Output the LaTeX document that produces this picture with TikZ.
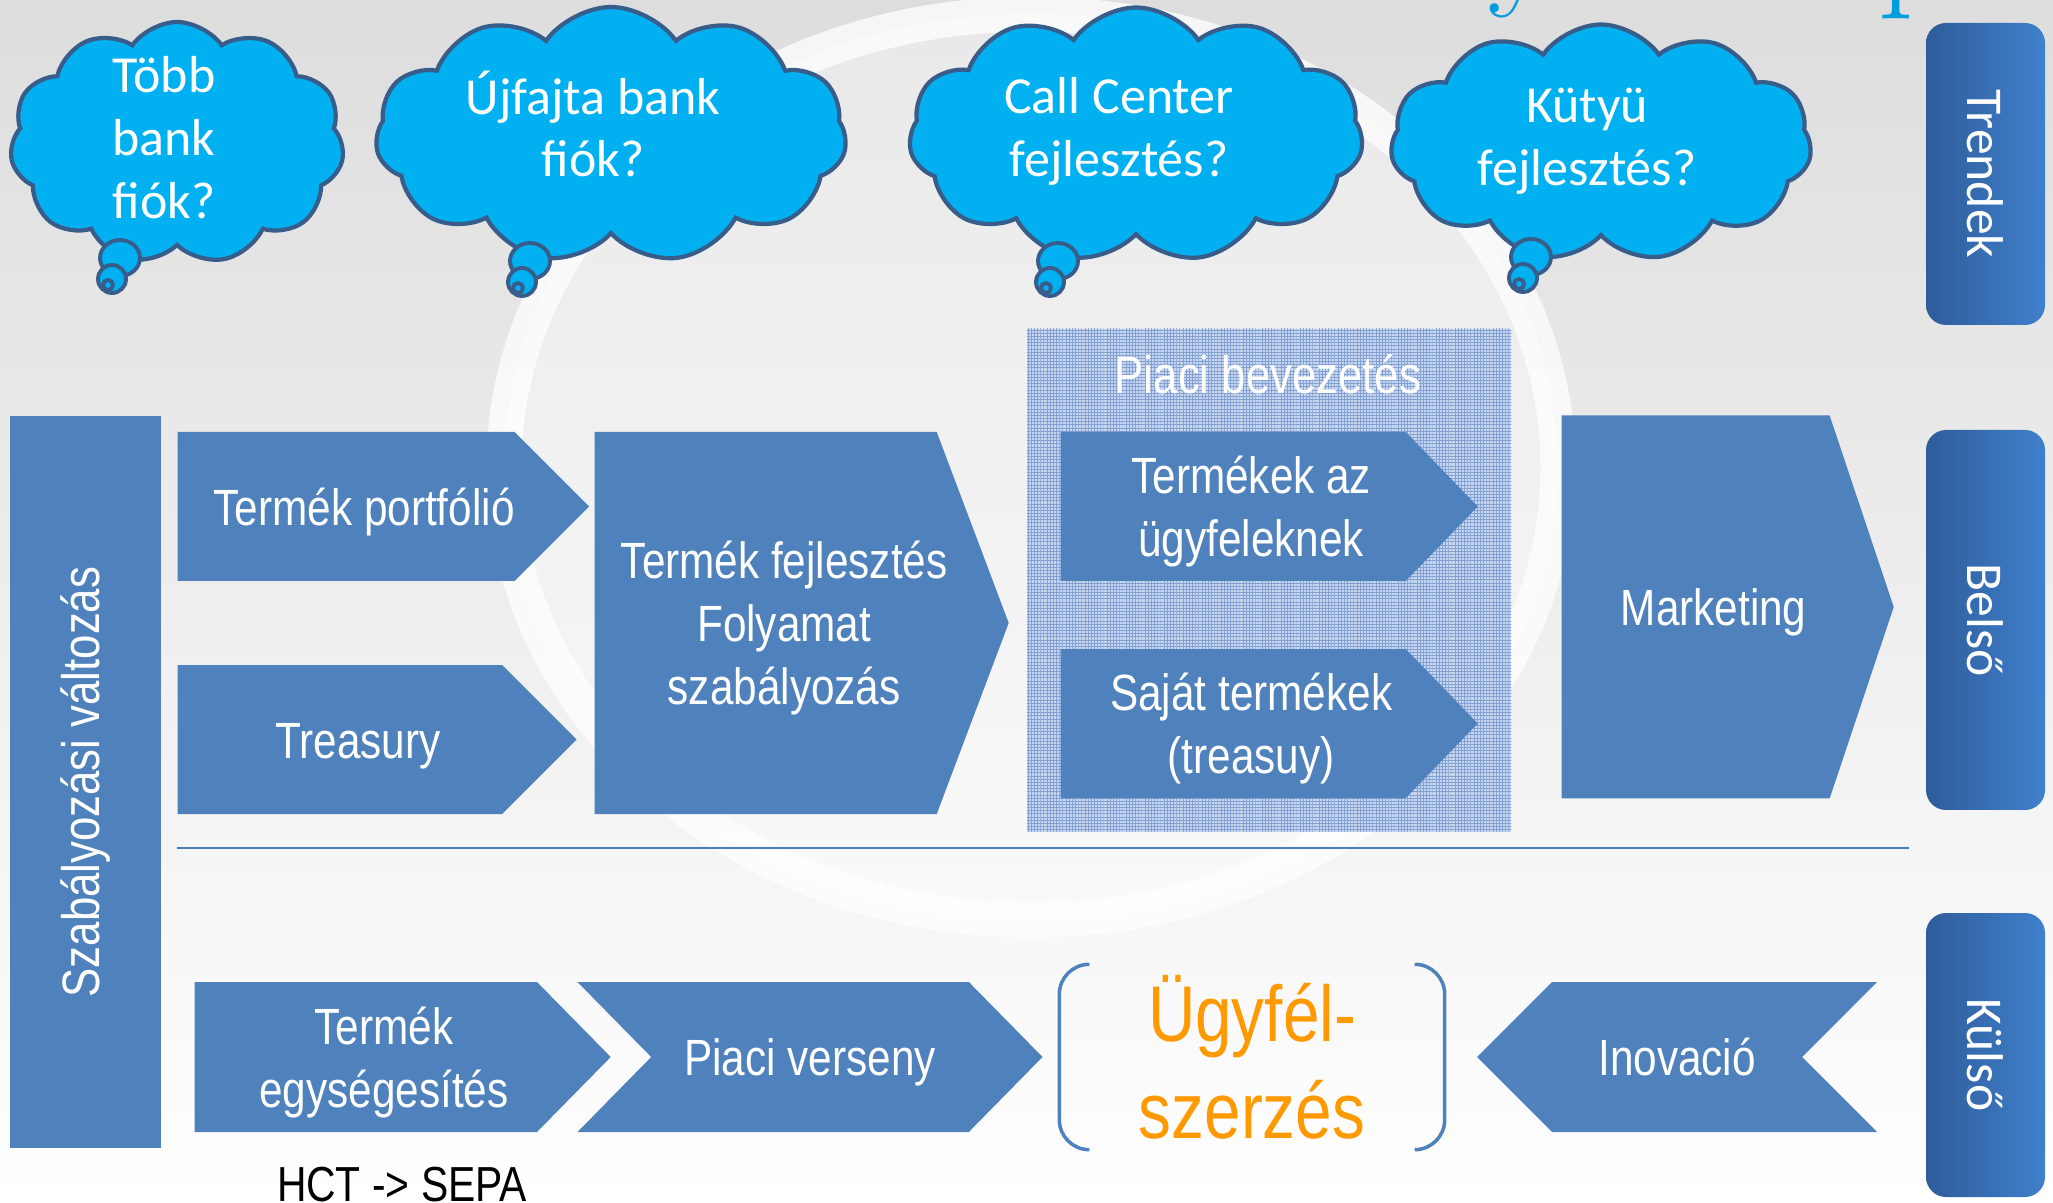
\documentclass[tikz,border=0pt]{standalone}
\usepackage{fontspec}
\newfontfamily\narrowfont[FakeStretch=0.83]{Liberation Sans}
\newfontfamily\calibrifont{Carlito}
\usepackage{graphicx}
\usepackage{tikz}
\usetikzlibrary{shapes.symbols, patterns, positioning}
\definecolor{boxblue}{RGB}{79, 129, 189}
\definecolor{cloudblue}{RGB}{0, 176, 240}
\definecolor{clouddark}{RGB}{56, 93, 138}
\definecolor{tabdark}{RGB}{46, 92, 154}
\definecolor{tablight}{RGB}{64, 128, 204}
\definecolor{bgtop}{RGB}{221, 221, 221}
\definecolor{bgmid}{RGB}{238, 238, 238}
\definecolor{gridfill}{RGB}{200, 215, 238}
\definecolor{gridline}{RGB}{130, 160, 212}
\definecolor{ugyorange}{RGB}{255, 153, 0}
\definecolor{titleblue}{RGB}{0, 157, 220}
\definecolor{sepblue}{RGB}{74, 126, 187}
\pgfdeclarepatternformonly{finegrid}{\pgfqpoint{-0.1pt}{-0.1pt}}{\pgfqpoint{1pt}{1pt}}{\pgfqpoint{0.9pt}{0.9pt}}{
  \pgfsetlinewidth{0.25pt}
  \pgfpathmoveto{\pgfqpoint{0pt}{0pt}}\pgfpathlineto{\pgfqpoint{0.9pt}{0pt}}
  \pgfpathmoveto{\pgfqpoint{0pt}{0pt}}\pgfpathlineto{\pgfqpoint{0pt}{0.9pt}}
  \pgfusepath{stroke}}
% text of a pentagon sits a little right of and below the body centre
\newcommand{\boxtext}[2][3.6mm]{\hspace*{#1}\raisebox{-0.6mm}[\height][\depth]{\begin{tabular}{@{}c@{}}#2\end{tabular}}}
\tikzset{
  flowbox/.style = {signal, fill = boxblue, text = white, align = center, inner sep = 0pt,
    font = \narrowfont\fontsize{14.5}{18}\selectfont},
  thought/.style = {cloud, cloud puffs = 11, cloud puff arc = 110, cloud ignores aspect,
    fill = cloudblue, draw = clouddark, line width = 1.2pt},
  bubble/.style = {fill = cloudblue, draw = clouddark, line width = 1.1pt},
  cloudtext/.style = {text = white, align = center, inner sep = 0pt,
    font = \calibrifont\fontsize{14.8}{17.9}\selectfont},
  sidetab/.style = {rectangle, rounded corners = 2mm, left color = tabdark, right color = tablight,
    text = white, inner sep = 0pt, minimum width = 11.9mm,
    font = \calibrifont\fontsize{14.7}{17.9}\selectfont},
  bracket/.style = {draw = boxblue, line width = 0.35mm, rounded corners = 3mm},
  title/.style = {anchor = base west, inner sep = 0pt, text = titleblue, font = \fontsize{40}{40}\selectfont}
}

\begin{document}
\begin{tikzpicture}[x = 0.1mm, y = -0.1mm]
\useasboundingbox (0,0) rectangle (2053,1203);
\clip (0,0) rectangle (2053,1203);
% background and watermark
\shade[top color = bgtop, middle color = bgmid, bottom color = white] (0,0) rectangle (2053,1203);
\fill[white, opacity = 0.35] (1031,467) ellipse [x radius = 527, y radius = 453];
\draw[white, opacity = 0.75, line width = 3.5mm] (1031,467) ellipse [x radius = 527, y radius = 453];
\node[title] (titley) at (1488,-10) {y};
\node[title] (titlep) at (1878,-8) {p};

% thought clouds
\node[thought, minimum width = 33.4mm, minimum height = 24.2mm] (cloud1) at (177,143) {};
\node[thought, minimum width = 47.1mm, minimum height = 25.6mm] (cloud2) at (611,135) {};
\node[thought, minimum width = 45.4mm, minimum height = 25.5mm] (cloud3) at (1136,135) {};
\node[thought, minimum width = 42.1mm, minimum height = 23.7mm] (cloud4) at (1601,143) {};
\foreach \bx/\by in {120/258, 530/261, 1058/261, 1531/257} {
  \draw[bubble] (\bx,\by) ellipse [x radius = 20, y radius = 18];
  \draw[bubble] (\bx-8,\by+21) circle [radius = 14];
  \draw[bubble] (\bx-12,\by+27) circle [radius = 5];
}
\node[cloudtext] (cloud1text) at (164,138) {Több\\bank\\fiók?};
\node[cloudtext] (cloud2text) at (593,124) {Újfajta bank\\fiók?};
\node[cloudtext] (cloud3text) at (1119,131) {Call Center\\fejlesztés?};
\node[cloudtext] (cloud4text) at (1587,141) {Kütyü\\fejlesztés?};

% side tabs
\node[sidetab, minimum height = 30.2mm] (trendek) at (1985.5,174) {\rotatebox{-90}{Trendek}};
\node[sidetab, minimum height = 38mm] (belso) at (1985.5,620) {\rotatebox{-90}{Belső}};
\node[sidetab, minimum height = 28.4mm] (kulso) at (1985.5,1055) {\rotatebox{-90}{Külső}};

% left bar
\node[fill = boxblue, minimum width = 15.1mm, minimum height = 73.2mm, inner sep = 0pt, text = white,
  font = \narrowfont\fontsize{15}{18}\selectfont] (szabaly) at (85.5,782) {\rotatebox{90}{Szabályozási változás}};

% inner row
\node[flowbox, signal to = east, signal pointer angle = 90, minimum width = 39.9mm,
  minimum height = 14.9mm, anchor = west] (portfolio) at (177,506.5) {\boxtext{Termék portfólió}};
\node[flowbox, signal to = east, signal pointer angle = 90, minimum width = 39.9mm,
  minimum height = 14.9mm, anchor = west] (treasury) at (177,739.5) {\boxtext{Treasury}};
\node[flowbox, signal to = east, signal pointer angle = 138.7, minimum width = 41.4mm,
  minimum height = 38.2mm, anchor = west] (fejlesztes) at (594,623)
  {\boxtext[3.7mm]{\makebox[30mm]{\begin{tabular}{@{}c@{}}Termék fejlesztés\\Folyamat\\szabályozás\end{tabular}}}};
\node[fill = gridfill, postaction = {pattern = finegrid, pattern color = gridline},
  minimum width = 48.4mm, minimum height = 50.3mm, inner sep = 0pt] (bevezetes) at (1269,580.5) {};
\node[text = white, inner sep = 0pt, font = \narrowfont\fontsize{15}{18}\selectfont] (bevcim) at (1268,374) {Piaci bevezetés};
\node[flowbox, signal to = east, signal pointer angle = 92, minimum width = 41.7mm,
  minimum height = 14.9mm, anchor = west] (ugyfelek) at (1060,506.5) {\boxtext{Termékek az\\ügyfeleknek}};
\node[flowbox, signal to = east, signal pointer angle = 92, minimum width = 41.7mm,
  minimum height = 14.9mm, anchor = west] (sajat) at (1060,723.5) {\boxtext{Saját termékek\\(treasuy)}};
\node[flowbox, signal to = east, signal pointer angle = 143, minimum width = 33.2mm,
  minimum height = 38.3mm, anchor = west] (marketing) at (1561,607) {\boxtext{Marketing}};

\draw[sepblue, line width = 0.25mm] (177,848) -- (1909,848);

% outer row
\node[flowbox, signal to = east, signal pointer angle = 91, minimum width = 41.6mm,
  minimum height = 15mm, anchor = west] (egyseg) at (194,1057) {\boxtext{Termék\\egységesítés}};
\node[flowbox, signal from = west, signal to = east, signal pointer angle = 91, minimum width = 46.5mm,
  minimum height = 15mm] (verseny) at (810,1057) {\boxtext[0mm]{Piaci verseny}};
\node[minimum width = 38.4mm, minimum height = 18.4mm, inner sep = 0pt, align = center, text = ugyorange,
  font = \narrowfont\fontsize{22.5}{27.6}\selectfont] (ugyfel) at (1252,1057) {Ügyfél-\\szerzés};
\draw[bracket] ([xshift = 3mm]ugyfel.north west) -- (ugyfel.north west) -- (ugyfel.south west) -- ([xshift = 3mm]ugyfel.south west);
\draw[bracket] ([xshift = -3mm]ugyfel.north east) -- (ugyfel.north east) -- (ugyfel.south east) -- ([xshift = -3mm]ugyfel.south east);
\node[flowbox, signal to = west, signal from = east, signal pointer angle = 90, minimum width = 40mm,
  minimum height = 15mm] (inovacio) at (1677,1057) {Inovació};
\node[anchor = base, inner sep = 0pt, font = \narrowfont\fontsize{14}{18}\selectfont] (hct) at (402,1201) {HCT -> SEPA};
\end{tikzpicture}
\end{document}
